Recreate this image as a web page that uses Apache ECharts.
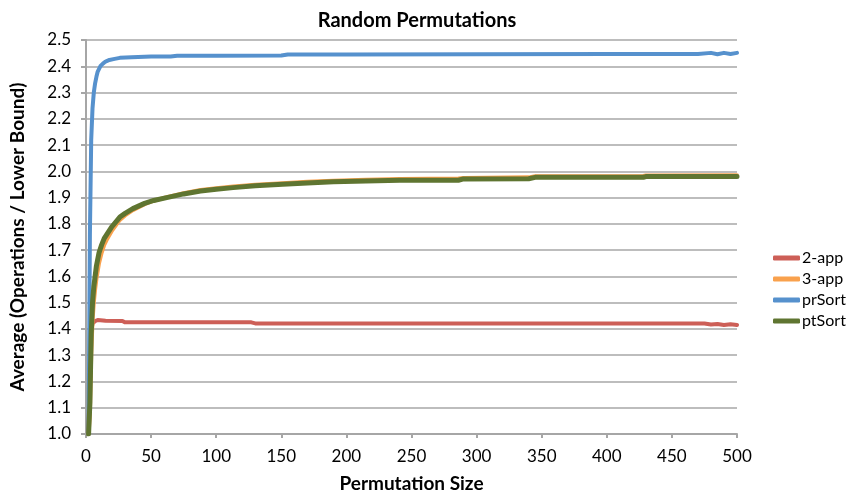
<!DOCTYPE html>
<html>
<head>
<meta charset="utf-8">
<style>
 * { margin: 0; padding: 0; }
 #container { width: 849px; height: 498px; background: #fff; }
</style>
</head>
<body>
<div id="container"></div>
<script src="https://cdn.jsdelivr.net/npm/echarts@6/dist/echarts.min.js"></script>
<script>
    // points: [permutation size, average]
    var twoApp = [[2,1.0],[3,1.27],[4,1.39],[5,1.42],[7,1.43],[9,1.434],[15,1.431],[28,1.43],[30,1.425],[127,1.425],[130,1.421],[475,1.421],[480,1.417],[485,1.419],[490,1.415],[495,1.418],[500,1.415]];
    var threeApp = [[2,1.0],[3,1.08],[4,1.3],[5,1.43],[6,1.5],[7,1.55],[8,1.59],[10,1.65],[12,1.69],[14,1.72],[16,1.74],[20,1.775],[26,1.815],[30,1.832],[36,1.852],[45,1.875],[52,1.888],[62,1.902],[75,1.917],[88,1.929],[100,1.936],[113,1.942],[130,1.949],[151,1.955],[170,1.96],[190,1.964],[215,1.968],[241,1.971],[286,1.973],[290,1.975],[340,1.977],[345,1.981],[428,1.982],[430,1.984],[500,1.985]];
    var prSort = [[2,1.0],[3,1.76],[4,2.12],[5,2.24],[6,2.30],[7,2.335],[8,2.36],[9,2.38],[11,2.40],[13,2.41],[15,2.418],[18,2.424],[22,2.428],[26,2.432],[35,2.434],[50,2.437],[65,2.437],[70,2.44],[100,2.44],[150,2.441],[155,2.445],[200,2.445],[300,2.446],[400,2.447],[470,2.447],[480,2.451],[485,2.446],[490,2.451],[495,2.447],[500,2.451]];
    var ptSort = [[2,1.0],[3,1.12],[4,1.38],[5,1.50],[6,1.56],[7,1.60],[8,1.64],[10,1.69],[12,1.72],[14,1.745],[16,1.76],[20,1.79],[26,1.826],[30,1.84],[36,1.858],[45,1.878],[52,1.889],[62,1.90],[75,1.914],[88,1.925],[100,1.932],[113,1.938],[130,1.945],[151,1.951],[170,1.956],[190,1.96],[215,1.963],[241,1.966],[286,1.966],[290,1.971],[340,1.972],[345,1.977],[428,1.977],[430,1.98],[500,1.98]];

    var seriesNames = ['2-app', '3-app', 'prSort', 'ptSort'];
    var seriesData = [twoApp, threeApp, prSort, ptSort];
    var colors = ['#cd5f57', '#f9a14d', '#5691cd', '#5f7531'];

    var font = 'Lato, "Open Sans", sans-serif';
    var dom = document.getElementById("container");
    var myChart = echarts.init(dom, null, { renderer: 'canvas' });

    var option = {
        animation: false,
        color: colors,
        title: {
            text: 'Random Permutations',
            left: 412, top: 6, textAlign: 'center',
            textStyle: { fontFamily: font, fontSize: 20, fontWeight: 'bold', color: '#000' }
        },
        legend: {
            orient: 'vertical',
            left: 768, top: 245,
            itemWidth: 27, itemHeight: 5, itemGap: 5,
            icon: 'roundRect',
            data: seriesNames,
            textStyle: { fontFamily: font, fontSize: 16, color: '#000', padding: [0, 0, 0, -3] }
        },
        grid: { left: 86, right: 112, top: 40, bottom: 61, containLabel: false },
        xAxis: {
            type: 'value', min: 0, max: 500, interval: 50,
            name: 'Permutation Size', nameLocation: 'middle', nameGap: 40,
            nameTextStyle: { fontFamily: font, fontSize: 19, fontWeight: 'bold', color: '#000' },
            axisLine: { lineStyle: { color: '#a6a6a6', width: 2 } },
            axisTick: { show: true, length: 4, lineStyle: { color: '#a6a6a6', width: 2 } },
            axisLabel: { fontFamily: font, fontSize: 17, color: '#000', margin: 14 },
            splitLine: { show: false }
        },
        yAxis: {
            type: 'value', min: 1.0, max: 2.5, interval: 0.1,
            name: 'Average (Operations / Lower Bound)', nameLocation: 'middle', nameGap: 59,
            nameTextStyle: { fontFamily: font, fontSize: 19, fontWeight: 'bold', color: '#000' },
            axisLine: { show: true, lineStyle: { color: '#a6a6a6', width: 2 } },
            axisTick: { show: true, length: 5, lineStyle: { color: '#a6a6a6', width: 2 } },
            axisLabel: { fontFamily: font, fontSize: 17, color: '#000', margin: 15,
                formatter: function (v) { return v.toFixed(1); } },
            splitLine: { lineStyle: { color: '#bdbdbd', width: 2 } }
        },
        series: seriesNames.map(function (name, i) {
            return {
                name: name, type: 'line', data: seriesData[i],
                showSymbol: false, symbol: 'none',
                lineStyle: { width: i === 3 ? 5 : 4, color: colors[i], cap: 'round', join: 'round' },
                itemStyle: { color: colors[i] },
                z: 2 + i
            };
        })
    };

    myChart.setOption(option);
</script>
</body>
</html>
